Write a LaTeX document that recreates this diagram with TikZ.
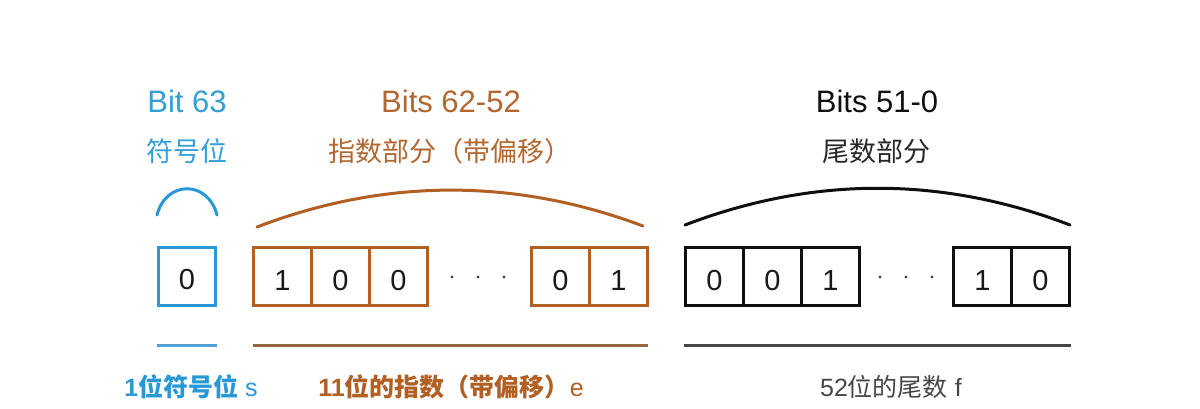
\documentclass[tikz,border=0pt]{standalone}
\usepackage{fontspec}
\setmainfont{Liberation Sans}
\newfontfamily\cjk{Noto Sans CJK SC}
\definecolor{sblue}{RGB}{40,152,214}
\definecolor{sbluet}{RGB}{52,158,214}
\definecolor{sblueline}{RGB}{85,160,210}
\definecolor{ebrown}{RGB}{178,95,35}
\definecolor{ebrownt}{RGB}{178,102,48}
\definecolor{ebrownline}{RGB}{150,100,65}
\definecolor{mblack}{RGB}{15,15,15}
\definecolor{mgray}{RGB}{70,70,70}
\definecolor{digitc}{RGB}{25,25,25}
\begin{document}
\begin{tikzpicture}[x=1pt,y=-1pt,
  cellbox/.style={draw,line width=3pt,minimum width=58pt,minimum height=58pt,inner sep=0pt,outer sep=0pt},
  digit/.style={text=digitc,font=\fontsize{29}{33}\selectfont,anchor=base,inner sep=0pt},
  dotc/.style={fill=mgray,draw=none},
  arcline/.style={line width=3pt,line cap=round},
  bline/.style={line width=3pt},
  toplat/.style={font=\fontsize{31}{36}\selectfont,anchor=base,inner sep=0pt},
  topcjk/.style={font=\cjk\fontsize{27}{32}\selectfont,anchor=center,inner sep=0pt},
  botlab/.style={font=\fontsize{25}{30}\selectfont,anchor=base,inner sep=0pt}
]
\useasboundingbox[fill=white] (0,0) rectangle (1200,409);

% ---- sign bit ----
\node[toplat,text=sbluet] (t63) at (187,112.5) {Bit 63};
\node[topcjk,text=sbluet] (tsign) at (187,151.5) {符号位};
\draw[arcline,sblue] (157,215) .. controls (166,180) and (208,180) .. (217,215);
\node[cellbox,draw=sblue,minimum width=57pt] (s0) at (187,276.5) {};
\node[digit] at (187,289.5) {0};
\coordinate (sl1) at (157,345); \coordinate (sl2) at (217,345);
\draw[bline,sblueline] (sl1) -- (sl2);
\node[botlab,text=sblue] (bsign) at (191,396) {{\bfseries 1{\cjk 位符号位}} s};

% ---- exponent ----
\node[toplat,text=ebrownt] (t6252) at (451,112.5) {Bits 62-52};
\node[topcjk,text=ebrownt] (texp) at (450,151.5) {指数部分（带偏移）};
\draw[arcline,ebrown] (257,227) .. controls (385,178) and (515,178) .. (643,226);
\foreach \x/\d/\n in {282.5/1/e1,340.5/0/e2,398.5/0/e3,560.5/0/e4,618.5/1/e5}{
  \node[cellbox,draw=ebrown] (\n) at (\x,276.5) {};
  \node[digit] at (\x,290) {\d};
}
\foreach \x in {452,478,504}{\fill[dotc] (\x,277) circle (1.7pt);}
\coordinate (el1) at (253,345); \coordinate (el2) at (648,345);
\draw[bline,ebrownline] (el1) -- (el2);
\node[botlab,text=ebrown] (bexp) at (451,396) {{\bfseries 11{\cjk 位的指数（带偏移）}}e};

% ---- mantissa ----
\node[toplat,text=mblack] (t510) at (877,112.5) {Bits 51-0};
\node[topcjk,text=mblack!90] (tman) at (876,151.5) {尾数部分};
\draw[arcline,mblack] (685,225) .. controls (813,176) and (942,176) .. (1070,225);
\foreach \x/\d/\n in {714.5/0/m1,772.5/0/m2,830.5/1/m3,982.5/1/m4,1040.5/0/m5}{
  \node[cellbox,draw=mblack] (\n) at (\x,276.5) {};
  \node[digit] at (\x,290) {\d};
}
\foreach \x in {880,906,932}{\fill[dotc] (\x,277) circle (1.7pt);}
\coordinate (ml1) at (684,345); \coordinate (ml2) at (1071,345);
\draw[bline,mgray] (ml1) -- (ml2);
\node[botlab,text=mgray] (bman) at (891,396) {52{\cjk 位的尾数} f};
\end{tikzpicture}
\end{document}
